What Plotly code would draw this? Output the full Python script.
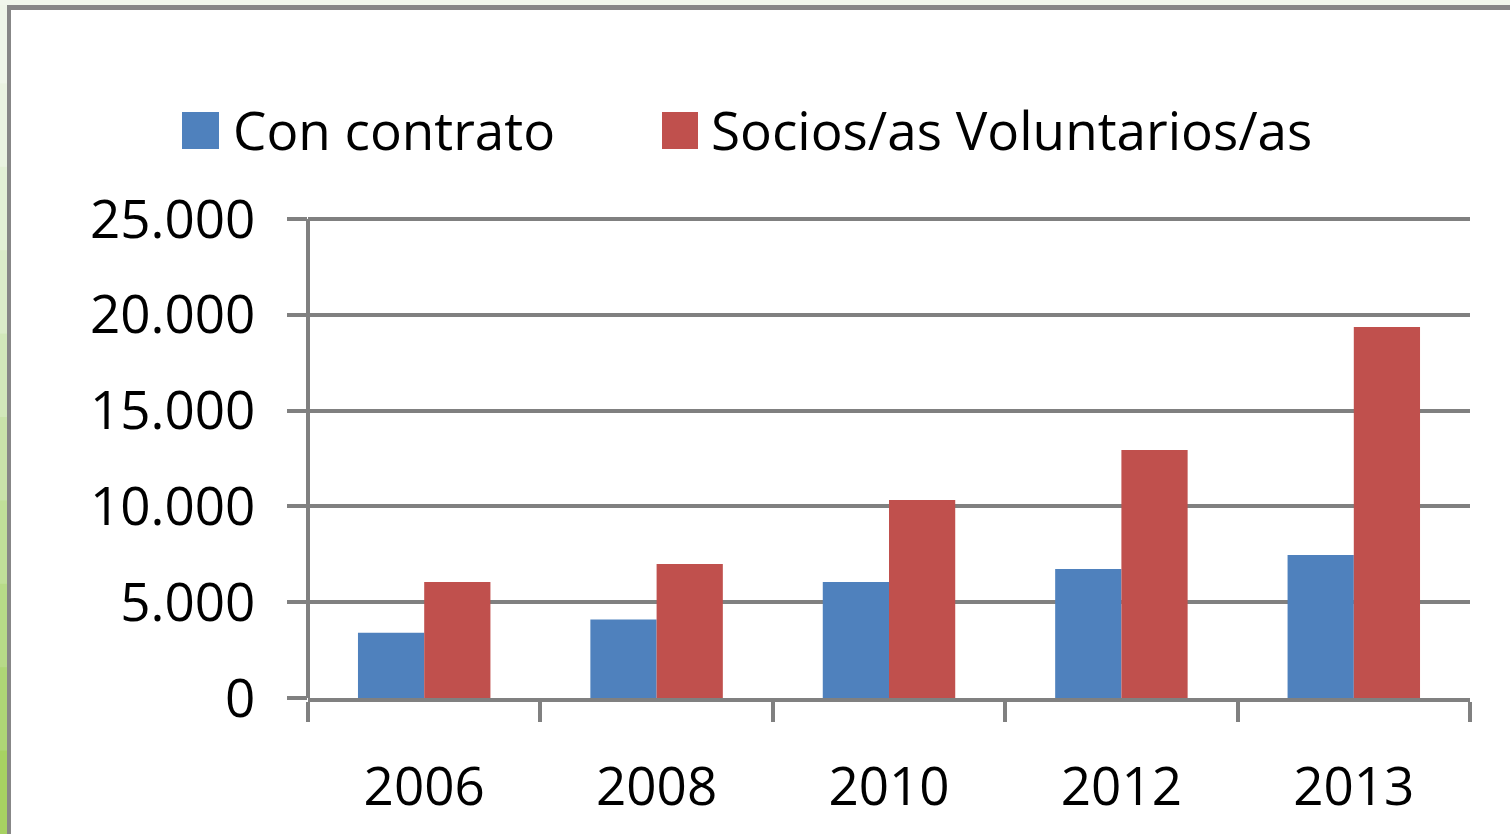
import plotly.graph_objects as go

years = ["2006", "2008", "2010", "2012", "2013"]
con_contrato = [3400, 4100, 6050, 6730, 7460]
socios_voluntarios = [6050, 7000, 10330, 12950, 19360]
series_names = ["Con contrato", "Socios/as Voluntarios/as"]
series_colors = ["#4F81BD", "#C0504D"]
y_tickvals = [0, 5000, 10000, 15000, 20000, 25000]
y_ticktext = ["0", "5.000", "10.000", "15.000", "20.000", "25.000"]

W, H = 1510, 834
L, R, T, B = 308, 40, 214, 136
PW, PH = W - L - R, H - T - B
GRAY = "#808080"
FONT = "Open Sans"
YMAX = 25261


def px(x):
    return (x - L) / PW


def py(y):
    return (H - B - y) / PH


fig = go.Figure()
for name, vals, col in zip(series_names, [con_contrato, socios_voluntarios], series_colors):
    fig.add_trace(go.Bar(x=years, y=vals, name=name, marker=dict(color=col, line=dict(width=0)),
                         showlegend=False))

shapes = []
# left green page strip (vertical gradient)
greens = ["#EFF6E9", "#EAF3E1", "#E3F0D6", "#DBECC9", "#D2E8BA", "#C9E3AA",
          "#C0DF99", "#B7DA88", "#AED676", "#A7D262"]
n = len(greens)
for i, c in enumerate(greens):
    shapes.append(dict(type="rect", xref="paper", yref="paper", layer="below",
                       x0=px(0), x1=px(7), y0=py(i * H / n), y1=py((i + 1) * H / n + 1),
                       fillcolor=c, line=dict(width=0)))
# top pale strip
shapes.append(dict(type="rect", xref="paper", yref="paper", layer="below",
                   x0=px(0), x1=px(W), y0=py(0), y1=py(5),
                   fillcolor="#F1F7EC", line=dict(width=0)))
# gray frame
shapes.append(dict(type="rect", xref="paper", yref="paper", layer="below",
                   x0=px(7), x1=px(11), y0=py(5), y1=py(H),
                   fillcolor="#878787", line=dict(width=0)))
shapes.append(dict(type="rect", xref="paper", yref="paper", layer="below",
                   x0=px(7), x1=px(W), y0=py(5), y1=py(10),
                   fillcolor="#878787", line=dict(width=0)))
# legend swatches
legend_boxes = [(182, 219), (662, 698)]
for (a, b), col in zip(legend_boxes, series_colors):
    shapes.append(dict(type="rect", xref="paper", yref="paper",
                       x0=px(a), x1=px(b), y0=py(112), y1=py(149),
                       fillcolor=col, line=dict(width=0)))

annotations = []
for xs, name in zip([231, 709], series_names):
    annotations.append(dict(text=name, xref="paper", yref="paper", x=px(xs), y=py(129),
                            xanchor="left", yanchor="middle", showarrow=False,
                            font=dict(family=FONT, size=53, color="black")))

fig.update_layout(
    width=W, height=H,
    margin=dict(l=L, r=R, t=T, b=B, pad=0),
    paper_bgcolor="white", plot_bgcolor="white",
    barmode="group", bargap=0.43, bargroupgap=0,
    font=dict(family=FONT, size=53, color="black"),
    shapes=shapes, annotations=annotations,
    showlegend=False,
)
fig.update_xaxes(type="category", tickson="boundaries", ticks="outside", ticklen=20,
                 tickwidth=4, tickcolor=GRAY, showline=True, linecolor=GRAY, linewidth=4,
                 showgrid=False, ticklabelstandoff=39,
                 tickfont=dict(family=FONT, size=53, color="black"))
fig.update_yaxes(range=[0, YMAX], tickvals=y_tickvals, ticktext=y_ticktext,
                 ticks="outside", ticklen=20, tickwidth=4, tickcolor=GRAY,
                 showline=False,
                 showgrid=True, gridcolor=GRAY, gridwidth=4, zeroline=False,
                 ticklabelstandoff=21,
                 tickfont=dict(family=FONT, size=53, color="black"))
# vertical axis line from 0 to 25.000 only
fig.add_shape(type="line", xref="paper", yref="y", x0=0, x1=0, y0=0, y1=y_tickvals[-1],
              line=dict(color=GRAY, width=4))

fig.write_html("out.html", config={"displayModeBar": False},
               post_script="document.body.style.margin='0';document.body.style.overflow='hidden';")
